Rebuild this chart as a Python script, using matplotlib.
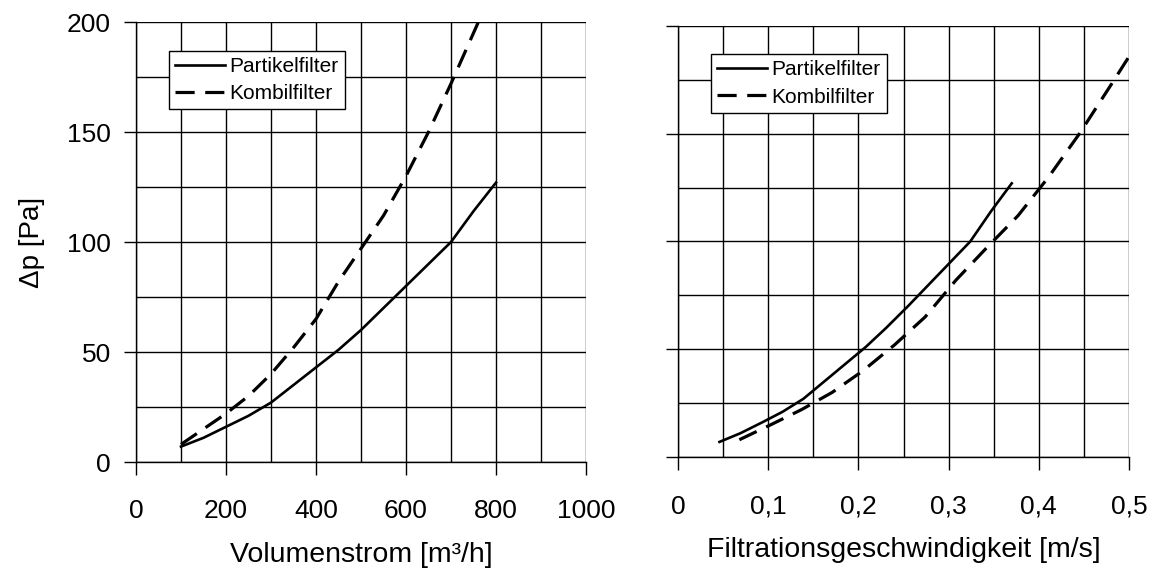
import matplotlib
matplotlib.use('Agg')
import matplotlib.pyplot as plt
from matplotlib.ticker import MultipleLocator

plt.rcParams['font.family'] = ['Liberation Sans', 'DejaVu Sans']

# left chart: pressure drop over volume flow
flow = [100, 150, 200, 250, 300, 350, 400, 450, 500, 550, 600, 650, 700, 750, 800]
dp_partikel = [7, 11, 16, 21, 27, 35, 43, 51, 60, 70, 80, 90, 100, 114, 127]
dp_kombi = [8, 15, 22, 30, 40, 52, 65, 82, 97, 112, 130, 150, 172, 195, 218]

# right chart: pressure drop over filtration velocity
v_partikel = [0.046, 0.069, 0.093, 0.116, 0.139, 0.162, 0.185, 0.208, 0.231,
              0.255, 0.278, 0.301, 0.324, 0.347, 0.370]
v_kombi = [0.068, 0.103, 0.137, 0.171, 0.205, 0.240, 0.274, 0.308, 0.342,
           0.377, 0.411, 0.445, 0.479, 0.514, 0.548]

left_xticks = [0, 200, 400, 600, 800, 1000]
right_xticks = [0, 0.1, 0.2, 0.3, 0.4, 0.5]
right_xticklabels = ['0', '0,1', '0,2', '0,3', '0,4', '0,5']
yticks = [0, 50, 100, 150, 200]

W, H = 1154, 570
fig = plt.figure(figsize=(W / 100, H / 100), dpi=100)
ax1 = fig.add_axes([136 / W, (H - 462) / H, 450 / W, 440 / H])
ax2 = fig.add_axes([678 / W, (H - 457) / H, 451 / W, 431 / H])


def style_axis(ax, xmax, xminor):
    ax.set_xlim(0, xmax)
    ax.set_ylim(0, 200)
    ax.set_yticks(yticks)
    ax.xaxis.set_minor_locator(MultipleLocator(xminor))
    ax.yaxis.set_minor_locator(MultipleLocator(25))
    ax.grid(True, which='both', color='black', linewidth=1.0)
    ax.set_axisbelow(True)
    for side in ['top', 'right']:
        ax.spines[side].set_visible(False)
    for side in ['left', 'bottom']:
        ax.spines[side].set_linewidth(1.0)
    ax.tick_params(which='major', direction='out', length=9, width=1.0, labelsize=19)
    ax.tick_params(which='minor', length=0)
    ax.tick_params(axis='x', pad=18)
    ax.tick_params(axis='y', pad=9)


def add_lines(ax, x1, y1, x2, y2):
    ax.plot(x1, y1, color='black', linewidth=1.9, label='Partikelfilter')
    ax.plot(x2, y2, color='black', linewidth=2.3, dashes=(6, 3.3), label='Kombilfilter')
    leg = ax.legend(loc='upper left', bbox_to_anchor=(0.073, 0.935), borderaxespad=0,
                    fancybox=False, framealpha=1, edgecolor='black', fontsize=15,
                    handlelength=2.4, handletextpad=0.2, borderpad=0.3,
                    labelspacing=0.4)
    leg.get_frame().set_linewidth(1.0)


style_axis(ax1, 1000, 100)
ax1.set_xticks(left_xticks)
add_lines(ax1, flow, dp_partikel, flow, dp_kombi)
ax1.set_xlabel('Volumenstrom [m³/h]', fontsize=20.5, labelpad=13)
ax1.set_ylabel('Δp [Pa]', fontsize=20, labelpad=16)

style_axis(ax2, 0.5, 0.05)
ax2.set_xticks(right_xticks)
ax2.set_xticklabels(right_xticklabels)
ax2.set_yticklabels([])
add_lines(ax2, v_partikel, dp_partikel, v_kombi, dp_kombi)
ax2.set_xlabel('Filtrationsgeschwindigkeit [m/s]', fontsize=20.5, labelpad=13)

fig.savefig('out.png', dpi=100, facecolor='white')
